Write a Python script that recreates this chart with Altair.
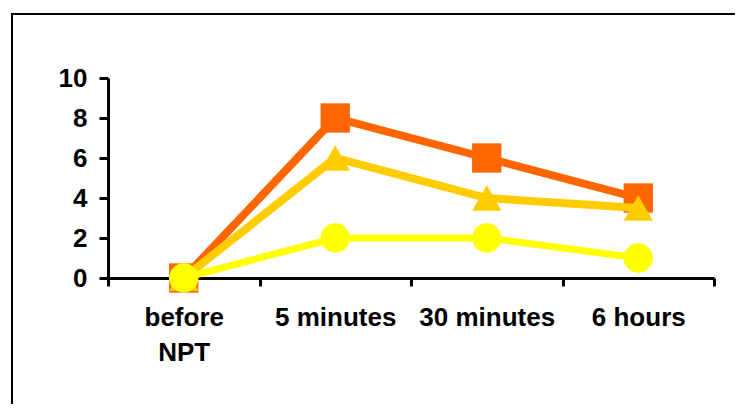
import altair as alt
import pandas as pd

categories = ["before NPT", "5 minutes", "30 minutes", "6 hours"]
series_a = [0, 8, 6, 4]      # orange squares
series_b = [0, 6, 4, 3.5]    # gold triangles
series_c = [0, 2, 2, 1]      # yellow circles
y_ticks = [0, 2, 4, 6, 8, 10]

FONT = "Liberation Sans"

x_enc = alt.X(
    "cat:N",
    sort=categories,
    scale=alt.Scale(type="band", domain=categories, paddingInner=0, paddingOuter=0),
    axis=alt.Axis(
        title=None,
        tickBand="extent",
        labelExpr="datum.value == 'before NPT' ? ['before', 'NPT'] : datum.value",
        labelFont=FONT, labelFontSize=26, labelFontWeight="bold", labelColor="black",
        labelLineHeight=35, labelPadding=18, labelAngle=0,
        tickSize=8, tickWidth=3, tickColor="black",
        domainWidth=3, domainColor="black", grid=False, labelBaseline="top",
    ),
)
y_enc = alt.Y(
    "value:Q",
    scale=alt.Scale(domain=[0, 10], nice=False, zero=True),
    axis=alt.Axis(
        title=None, values=y_ticks,
        labelFont=FONT, labelFontSize=26, labelFontWeight="bold", labelColor="black",
        labelPadding=12, tickSize=9, tickWidth=3, tickColor="black",
        domainWidth=3, domainColor="black", grid=False,
    ),
)

def series(vals, color, shape, width):
    df = pd.DataFrame({"cat": categories, "value": vals})
    base = alt.Chart(df)
    line = base.mark_line(color=color, strokeWidth=width).encode(x=x_enc, y=y_enc)
    pts = base.mark_point(filled=True, shape=shape, size=860, color=color, opacity=1).encode(x=x_enc, y=y_enc)
    return [line, pts]

one = pd.DataFrame({"a": [0]})
frame_left = alt.Chart(one).mark_rule(color="black", strokeWidth=2).encode(
    x=alt.value(-96), y=alt.value(-65), y2=alt.value(326))
frame_top = alt.Chart(one).mark_rule(color="black", strokeWidth=2).encode(
    x=alt.value(-97), x2=alt.value(627), y=alt.value(-64))

layers = [frame_left, frame_top]
layers += series(series_a, "#FF6600", "square", 8)
layers += series(series_b, "#FFCC00", "triangle-up", 8)
layers += series(series_c, "#FFFF00", "circle", 7)

chart = alt.layer(*layers).properties(
    width=606, height=200,
    autosize=alt.AutoSizeParams(type="none"),
    padding={"left": 100, "top": 70, "right": 21, "bottom": 126},
    background="white",
).configure_view(stroke=None, strokeWidth=0)

chart.save("out.html", embed_options={"renderer": "svg", "actions": False})
